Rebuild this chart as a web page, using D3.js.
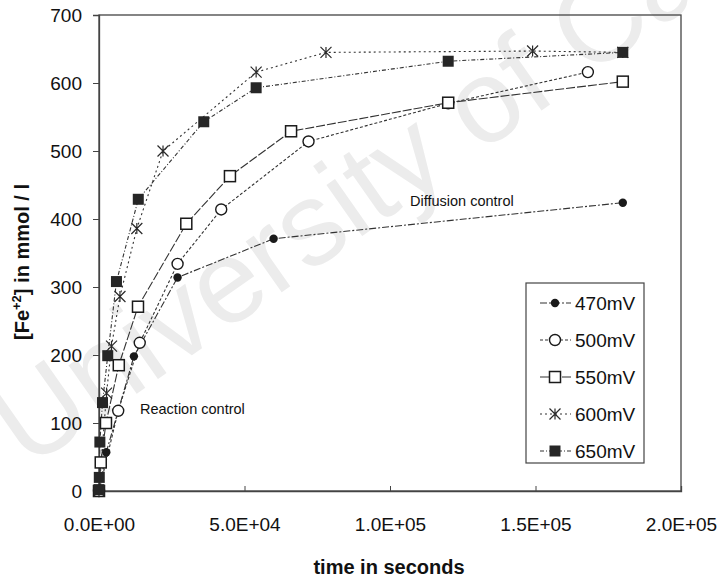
<!DOCTYPE html>
<html>
<head>
<meta charset="utf-8">
<script src="https://cdn.jsdelivr.net/npm/d3@7"></script>
<style>
  body { margin: 0; background: #fff; }
  svg { font-family: "Liberation Sans", Arial, sans-serif; }
</style>
</head>
<body>
<div id="chart"></div>
<script>
// Values (time in s, [Fe+2] in mmol/l)
const times_470 = [0, 2500, 12000, 27000, 60000, 180000];
const values_470 = [0, 57, 198, 314, 371, 424];

const times_500 = [0, 6600, 14000, 27000, 42000, 72000, 120000, 168000];
const values_500 = [0, 118, 218, 334, 414, 514, 570, 616];

const times_550 = [0, 600, 2400, 6800, 13400, 30000, 45000, 66000, 120000, 180000];
const values_550 = [0, 42, 100, 185, 271, 393, 463, 529, 571, 602];

const times_600 = [0, 2600, 4300, 7200, 13000, 22000, 54000, 78000, 149000, 180000];
const values_600 = [0, 144, 213, 286, 386, 500, 616, 645, 647, 645];

const times_650 = [0, 100, 300, 1200, 3000, 6000, 13500, 36000, 54000, 120000, 180000];
const values_650 = [2, 20, 72, 130, 199, 308, 429, 543, 593, 632, 645];

const series_names = ["470mV", "500mV", "550mV", "600mV", "650mV"];
const x_ticks = [0, 50000, 100000, 150000, 200000];
const y_ticks = [0, 100, 200, 300, 400, 500, 600, 700];

// styles per series
const DASHES = ["7,2,2,2", "3,2", "9,2", "2,3", "4,2,1,2"];
const MARKERS = ["dot", "circle", "square", "star", "block"];

const width = 721, height = 581;
const margin = { top: 15, right: 40, bottom: 90, left: 99 };

const svg = d3.select("#chart").append("svg")
    .attr("width", width)
    .attr("height", height);

// watermark
svg.append("text")
    .attr("transform", "translate(28,470) rotate(-35)")
    .attr("font-size", 118)
    .attr("fill", "#ececec")
    .text("University of Ca");

const x = d3.scaleLinear().domain([0, 200000]).range([margin.left, width - margin.right]);
const y = d3.scaleLinear().domain([0, 700]).range([height - margin.bottom, margin.top]);

const fmtSci = d => {
    if (d === 0) return "0.0E+00";
    const e = Math.floor(Math.log10(d));
    const m = d / Math.pow(10, e);
    return m.toFixed(1) + "E+" + String(e).padStart(2, "0");
};

// plot frame
svg.append("rect")
    .attr("x", x(0)).attr("y", y(700))
    .attr("width", x(200000) - x(0)).attr("height", y(0) - y(700))
    .attr("fill", "none").attr("stroke", "#444").attr("stroke-width", 1.3);

// X axis, ticks point inward
const xAxis = svg.append("g")
    .attr("transform", "translate(0," + y(0) + ")")
    .call(d3.axisBottom(x).tickValues(x_ticks).tickFormat(fmtSci).tickSize(-5).tickPadding(27));
xAxis.select(".domain").attr("stroke", "#444").attr("stroke-width", 1.3);
xAxis.selectAll("line").attr("stroke", "#444");
xAxis.selectAll("text").attr("font-size", 19).attr("fill", "#111");

// Y axis
const yAxis = svg.append("g")
    .attr("transform", "translate(" + x(0) + ",0)")
    .call(d3.axisLeft(y).tickValues(y_ticks).tickSize(6).tickPadding(11));
yAxis.select(".domain").attr("stroke", "#444").attr("stroke-width", 1.3);
yAxis.selectAll("line").attr("stroke", "#444");
yAxis.selectAll("text").attr("font-size", 19).attr("fill", "#111");

// axis titles
svg.append("text")
    .attr("x", 389).attr("y", 574)
    .attr("text-anchor", "middle")
    .attr("font-size", 20).attr("font-weight", "bold").attr("fill", "#111")
    .text("time in seconds");

const ylab = svg.append("text")
    .attr("transform", "translate(29,262) rotate(-90)")
    .attr("text-anchor", "middle")
    .attr("font-size", 20).attr("font-weight", "bold").attr("fill", "#111");
ylab.append("tspan").text("[Fe");
ylab.append("tspan").attr("dy", -8).attr("font-size", 13).text("+2");
ylab.append("tspan").attr("dy", 8).text("] in mmol / l");

// annotations
svg.append("text").attr("x", 140).attr("y", 414)
    .attr("font-size", 14.5).attr("fill", "#111").text("Reaction control");
svg.append("text").attr("x", 410).attr("y", 206)
    .attr("font-size", 14.5).attr("fill", "#111").text("Diffusion control");

// markers
function drawMarker(g, kind, cx, cy) {
    if (kind === "dot") {
        g.append("circle").attr("cx", cx).attr("cy", cy).attr("r", 4.2)
            .attr("fill", "#1a1a1a");
    } else if (kind === "circle") {
        g.append("circle").attr("cx", cx).attr("cy", cy).attr("r", 5.5)
            .attr("fill", "#fff").attr("stroke", "#1a1a1a").attr("stroke-width", 1.4);
    } else if (kind === "square") {
        g.append("rect").attr("x", cx - 5.5).attr("y", cy - 5.5).attr("width", 11).attr("height", 11)
            .attr("fill", "#fff").attr("stroke", "#1a1a1a").attr("stroke-width", 1.5);
    } else if (kind === "block") {
        g.append("rect").attr("x", cx - 5.5).attr("y", cy - 5.5).attr("width", 11).attr("height", 11)
            .attr("fill", "#262626");
    } else if (kind === "star") {
        const r = 5.5;
        g.append("path")
            .attr("d", `M${cx - r},${cy - r}L${cx + r},${cy + r}M${cx - r},${cy + r}L${cx + r},${cy - r}M${cx},${cy - r}L${cx},${cy + r}`)
            .attr("stroke", "#2a2a2a").attr("stroke-width", 1.2).attr("fill", "none");
    }
}

const all_times = [times_470, times_500, times_550, times_600, times_650];
const all_values = [values_470, values_500, values_550, values_600, values_650];

const line = d3.line().x(d => x(d[0])).y(d => y(d[1]));

all_times.forEach((ts, i) => {
    const pts = ts.map((t, j) => [t, all_values[i][j]]);
    svg.append("path")
        .datum(pts)
        .attr("fill", "none")
        .attr("stroke", "#333")
        .attr("stroke-width", 1.1)
        .attr("stroke-dasharray", DASHES[i])
        .attr("d", line);
});
all_times.forEach((ts, i) => {
    const g = svg.append("g");
    ts.forEach((t, j) => drawMarker(g, MARKERS[i], x(t), y(all_values[i][j])));
});

// legend
const lg = svg.append("g");
lg.append("rect")
    .attr("x", 526).attr("y", 283).attr("width", 118).attr("height", 180)
    .attr("fill", "#fff").attr("stroke", "#444").attr("stroke-width", 1.2);
series_names.forEach((name, i) => {
    const ly = 303 + i * 37;
    lg.append("line").attr("x1", 540).attr("x2", 571).attr("y1", ly).attr("y2", ly)
        .attr("stroke", "#333").attr("stroke-width", 1.1).attr("stroke-dasharray", DASHES[i]);
    drawMarker(lg, MARKERS[i], 555, ly);
    lg.append("text").attr("x", 575).attr("y", ly + 7)
        .attr("font-size", 19).attr("fill", "#111").text(name);
});
</script>
</body>
</html>
